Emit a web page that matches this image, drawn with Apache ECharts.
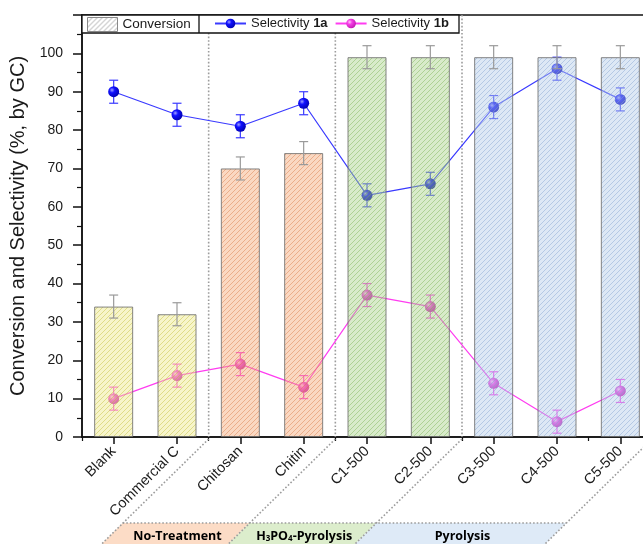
<!DOCTYPE html>
<html><head><meta charset="utf-8">
<script src="https://cdn.jsdelivr.net/npm/echarts/dist/echarts.min.js"></script>
<style>html,body{margin:0;padding:0;background:#fff}#c{width:643px;height:544px}</style>
</head><body><div id="c"></div>
<script>
// ---------- data ----------
const categories = ['Blank', 'Commercial C', 'Chitosan', 'Chitin', 'C1-500', 'C2-500', 'C3-500', 'C4-500', 'C5-500'];
const conversion = [34, 32, 70, 74, 99, 99, 99, 99, 99];
const conversionErr = [3, 3, 3, 3, 3, 3, 3, 3, 3];
const selectivity1a = [90, 84, 81, 87, 63, 66, 86, 96, 88];
const selectivity1aErr = [3, 3, 3, 3, 3, 3, 3, 3, 3];
const selectivity1b = [10, 16, 19, 13, 37, 34, 14, 4, 12];
const selectivity1bErr = [3, 3, 3, 3, 3, 3, 3, 3, 3];
const barGroupOfCategory = [0, 0, 1, 1, 2, 2, 3, 3, 3];
const bandNames = ['No-Treatment', 'H3PO4-Pyrolysis', 'Pyrolysis'];
const bandStartCategory = [2, 4, 6];
const bandEndCategory = [4, 6, 9];
const yMin = 0, yMax = 110, yStep = 10;

// ---------- styles ----------
const ALPHA = 0.45;
const groupFill = [[247, 245, 202], [250, 216, 194], [216, 235, 202], [221, 232, 245]];
const groupLine = [[228, 226, 165], [238, 196, 172], [196, 220, 178], [200, 214, 234]];
const bandFill = ['#fcdcc6', '#dcedcc', '#deeaf7'];

function throughAlpha(rgb) {
  return rgb.map(v => Math.max(0, Math.round(255 - (255 - v) / ALPHA)));
}
function makePattern(fill, line, a) {
  const s = 5;
  const cv = document.createElement('canvas');
  cv.width = s; cv.height = s;
  const ctx = cv.getContext('2d');
  ctx.fillStyle = 'rgba(' + fill.join(',') + ',' + a + ')';
  ctx.fillRect(0, 0, s, s);
  ctx.strokeStyle = 'rgba(' + line.join(',') + ',' + a + ')';
  ctx.lineWidth = 1;
  for (let k = -1; k <= 1; k++) {
    ctx.beginPath();
    ctx.moveTo(k * s, s);
    ctx.lineTo(k * s + s, 0);
    ctx.stroke();
  }
  return { image: cv, repeat: 'repeat' };
}
const patterns = groupFill.map((f, i) => makePattern(throughAlpha(f), throughAlpha(groupLine[i]), ALPHA));
const legendPattern = makePattern([255, 255, 255], [170, 170, 170], 1);

const blueSphere = new echarts.graphic.RadialGradient(0.35, 0.35, 0.7, [
  { offset: 0, color: '#a0a0ff' }, { offset: 0.35, color: '#1010ff' }, { offset: 1, color: '#0000b0' }]);
const pinkSphere = new echarts.graphic.RadialGradient(0.35, 0.35, 0.7, [
  { offset: 0, color: '#ffc8f4' }, { offset: 0.35, color: '#f53ee6' }, { offset: 1, color: '#c018b0' }]);
const COLOR_1A = '#3a3aff';
const COLOR_1B = '#ff3cf0';

function errorRenderer(color, capW, lw) {
  return function (params, api) {
    const i = api.value(0), v = api.value(1), e = api.value(2);
    const top = api.coord([i, v + e]);
    const bot = api.coord([i, v - e]);
    const hw = capW / 2;
    const st = { stroke: color, lineWidth: lw };
    return {
      type: 'group', children: [
        { type: 'line', shape: { x1: top[0], y1: top[1], x2: bot[0], y2: bot[1] }, style: st },
        { type: 'line', shape: { x1: top[0] - hw, y1: top[1], x2: top[0] + hw, y2: top[1] }, style: st },
        { type: 'line', shape: { x1: bot[0] - hw, y1: bot[1], x2: bot[0] + hw, y2: bot[1] }, style: st }
      ]
    };
  };
}
const errData = (vals, errs) => vals.map((v, i) => [i, v, errs[i]]);

const FONT = '"Liberation Sans", Arial, sans-serif';
const chart = echarts.init(document.getElementById('c'), null, { renderer: 'canvas' });

const option = {
  animation: false,
  backgroundColor: '#fff',
  textStyle: { fontFamily: FONT },
  grid: { left: 82, top: 15, right: -9, bottom: 107, show: true, borderColor: '#111', borderWidth: 1.5,
          containLabel: false, outerBoundsMode: 'none' },
  legend: [
    { data: [{ name: 'Conversion', itemStyle: { color: legendPattern, borderColor: '#888', borderWidth: 1 } }],
      left: 87, top: 17, padding: 0, icon: 'rect', itemWidth: 30, itemHeight: 14, selectedMode: false, z: 20,
      textStyle: { fontSize: 13.5, color: '#1a1a1a', fontFamily: FONT } },
    { data: ['Selectivity 1a', 'Selectivity 1b'],
      left: 214, top: 17, padding: 0, itemWidth: 31, itemHeight: 12, itemGap: 7, selectedMode: false, z: 20,
      formatter: name => name.replace(/ (1[ab])$/, ' {b|$1}'),
      textStyle: { fontSize: 13, color: '#1a1a1a', fontFamily: FONT,
                   rich: { b: { fontSize: 13, fontWeight: 'bold', color: '#1a1a1a', fontFamily: FONT } } } }
  ],
  xAxis: [
    { type: 'category', data: categories, position: 'bottom',
      axisLine: { show: true, lineStyle: { color: '#111', width: 1.5 } },
      axisTick: { show: true, alignWithLabel: true, length: 7, lineStyle: { color: '#111', width: 1.5 } },
      axisLabel: { show: true, interval: 0, rotate: 45, margin: 12, fontSize: 14.5, color: '#1a1a1a', fontFamily: FONT },
      splitLine: { show: false } },
    { type: 'category', data: categories, position: 'bottom',
      axisLine: { show: false },
      axisTick: { show: true, length: 4, lineStyle: { color: '#111', width: 1.2 } },
      axisLabel: { show: false }, splitLine: { show: false } }
  ],
  yAxis: [{
    type: 'value', min: yMin, max: yMax, interval: yStep,
    name: 'Conversion and Selectivity (%, by GC)', nameLocation: 'middle', nameGap: 47,
    nameTextStyle: { fontSize: 20, color: '#1a1a1a', fontFamily: FONT },
    axisLine: { show: true, lineStyle: { color: '#111', width: 1.5 } },
    axisTick: { show: true, length: 9, lineStyle: { color: '#111', width: 1.5 } },
    minorTick: { show: true, splitNumber: 2, length: 5, lineStyle: { color: '#111', width: 1.2 } },
    axisLabel: { show: true, margin: 19, fontSize: 14, color: '#1a1a1a', fontFamily: FONT, showMaxLabel: false,
                 formatter: v => (v > 100 ? '' : String(v)) },
    splitLine: { show: false }
  }],
  series: [
    { name: 'Selectivity 1a', type: 'line', z: 2, data: selectivity1a, symbol: 'circle', symbolSize: 11,
      itemStyle: { color: blueSphere, borderWidth: 0 },
      lineStyle: { color: COLOR_1A, width: 1.2 } },
    { name: 'Selectivity 1b', type: 'line', z: 2, data: selectivity1b, symbol: 'circle', symbolSize: 11,
      itemStyle: { color: pinkSphere, borderWidth: 0 },
      lineStyle: { color: COLOR_1B, width: 1.2 } },
    { name: 'err1a', type: 'custom', z: 2, renderItem: errorRenderer(COLOR_1A, 9, 1.2),
      data: errData(selectivity1a, selectivity1aErr), encode: { x: 0, y: 1 } },
    { name: 'err1b', type: 'custom', z: 2, renderItem: errorRenderer(COLOR_1B, 9, 1.2),
      data: errData(selectivity1b, selectivity1bErr), encode: { x: 0, y: 1 } },
    { name: 'Conversion', type: 'bar', z: 3, barWidth: 39,
      itemStyle: { color: legendPattern, borderColor: '#888', borderWidth: 1 },
      data: conversion.map((v, i) => ({ value: v, itemStyle: { color: patterns[barGroupOfCategory[i]], borderColor: 'rgba(110,110,110,0.85)', borderWidth: 1 } })) },
    { name: 'errConv', type: 'custom', z: 4, renderItem: errorRenderer('#9a9a9a', 9, 1.2),
      data: errData(conversion, conversionErr), encode: { x: 0, y: 1 } }
  ]
};
chart.setOption(option);

// ---------- annotations (separators, legend frame, group bands) ----------
const W = chart.getWidth(), H = chart.getHeight();
const px0 = chart.convertToPixel({ xAxisIndex: 0 }, 0);
const px1 = chart.convertToPixel({ xAxisIndex: 0 }, 1);
const step = px1 - px0;
const boundaryX = b => px0 + (b - 0.5) * step;
const yBot = chart.convertToPixel({ yAxisIndex: 0 }, yMin);
const yTop = chart.convertToPixel({ yAxisIndex: 0 }, yMax);
const bandTop = H - 21;
const diagX = (b, y) => boundaryX(b) - (y - yBot);
const dotted = { stroke: '#9c9c9c', lineWidth: 1.6, lineDash: [1.6, 2] };

const g = [];
[2, 4, 6].forEach(b => g.push({ type: 'line', z: 1, shape: { x1: boundaryX(b), y1: yTop, x2: boundaryX(b), y2: yBot }, style: dotted }));
bandNames.forEach((name, k) => {
  const a = bandStartCategory[k], b = bandEndCategory[k];
  g.push({ type: 'polygon', z: 1, shape: { points: [[diagX(a, bandTop), bandTop], [diagX(b, bandTop), bandTop], [diagX(b, H), H], [diagX(a, H), H]] },
           style: { fill: bandFill[k] } });
  const cx = (diagX(a, (bandTop + H) / 2) + diagX(b, (bandTop + H) / 2)) / 2;
  const txt = name === 'H3PO4-Pyrolysis' ? '{n|H}{s|3}{n|PO}{s|4}{n|-Pyrolysis}' : '{n|' + name + '}';
  g.push({ type: 'text', z: 3, x: cx + 2, y: (bandTop + H) / 2 + 1,
           style: { text: txt, align: 'center', verticalAlign: 'middle',
                    rich: { n: { fontFamily: '"Open Sans", sans-serif', fontWeight: 'bold', fontSize: 12.5, color: '#1a1a1a', lineHeight: 16, verticalAlign: 'bottom' },
                            s: { fontFamily: '"Open Sans", sans-serif', fontWeight: 'bold', fontSize: 8, color: '#1a1a1a', lineHeight: 16, verticalAlign: 'bottom' } } } });
});
[2, 4, 6, 9].forEach(b => g.push({ type: 'line', z: 2, shape: { x1: boundaryX(b), y1: yBot + 2, x2: diagX(b, H), y2: H }, style: dotted }));
g.push({ type: 'line', z: 2, shape: { x1: diagX(2, bandTop), y1: bandTop, x2: diagX(9, bandTop), y2: bandTop }, style: dotted });
const lgBottom = yTop + 18, lgRight = 459, lgDiv = 199;
g.push({ type: 'rect', z: 15, shape: { x: px0 - step / 2, y: yTop, width: lgRight - (px0 - step / 2), height: lgBottom - yTop },
         style: { fill: '#fff', stroke: '#111', lineWidth: 1.3 } });
g.push({ type: 'line', z: 16, shape: { x1: lgDiv, y1: yTop, x2: lgDiv, y2: lgBottom }, style: { stroke: '#111', lineWidth: 1.3 } });
chart.setOption({ graphic: g });
</script></body></html>
